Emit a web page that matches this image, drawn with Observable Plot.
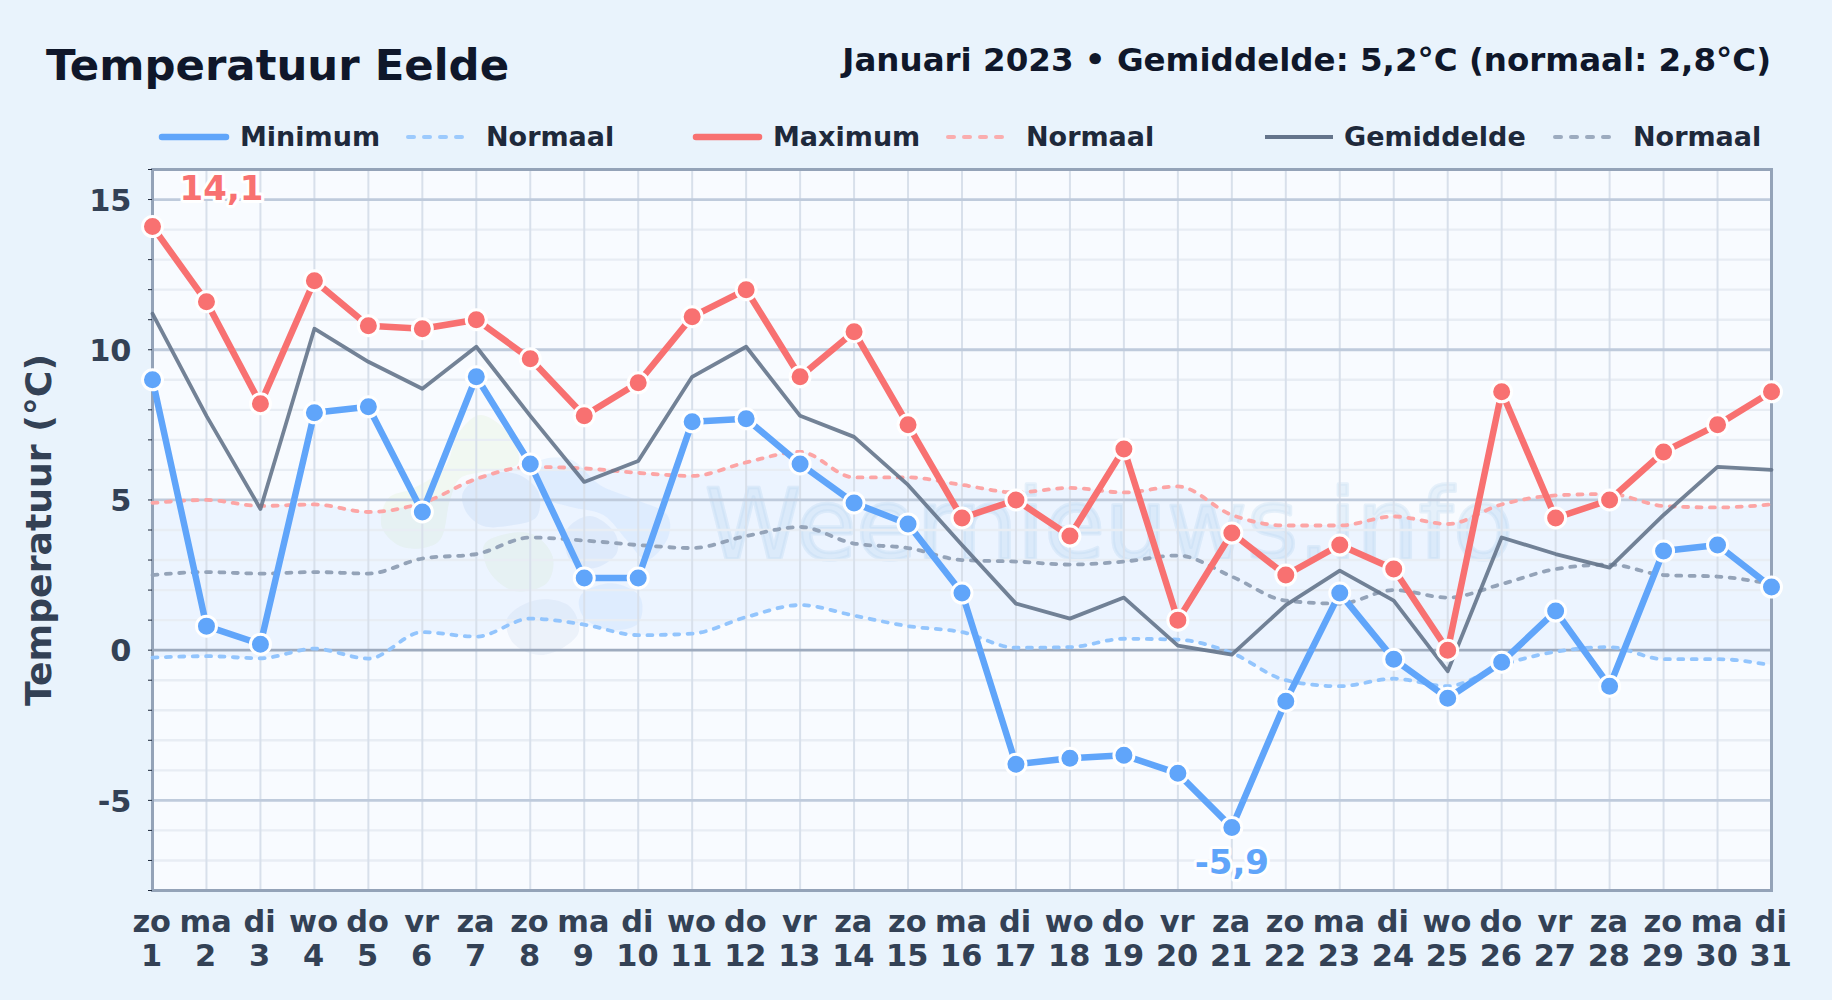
<!DOCTYPE html>
<html lang="nl">
<head>
<meta charset="utf-8">
<title>Temperatuur Eelde</title>
<script src="https://cdn.jsdelivr.net/npm/d3@7"></script>
<script src="https://cdn.jsdelivr.net/npm/@observablehq/plot@0.6"></script>
<style>
html,body{margin:0;padding:0;background:#e9f3fc;}
body{width:1832px;height:1000px;position:relative;overflow:hidden;font-family:"DejaVu Sans",sans-serif;font-weight:700;}
#title{position:absolute;left:46px;top:38px;font-size:43.4px;line-height:54px;color:#0f172a;white-space:nowrap;}
#sub{position:absolute;right:61px;top:40px;font-size:32.5px;line-height:40px;color:#0f172a;white-space:nowrap;}
.lg{position:absolute;top:120px;height:34px;line-height:34px;font-size:27px;color:#1e293b;white-space:nowrap;}
.sw{position:absolute;height:8px;}
#chart{position:absolute;left:0;top:155px;}
</style>
</head>
<body>
<div id="title">Temperatuur Eelde</div>
<div id="sub">Januari 2023 • Gemiddelde: 5,2°C (normaal: 2,8°C)</div>
<div id="legend"></div>
<div id="chart"></div>
<script>
const dayNames = ["zo","ma","di","wo","do","vr","za","zo","ma","di","wo","do","vr","za","zo","ma","di","wo","do","vr","za","zo","ma","di","wo","do","vr","za","zo","ma","di"];
const days = d3.range(1, 32);
const tmin = [9.0,0.8,0.2,7.9,8.1,4.6,9.1,6.2,2.4,2.4,7.6,7.7,6.2,4.9,4.2,1.9,-3.8,-3.6,-3.5,-4.1,-5.9,-1.7,1.9,-0.3,-1.6,-0.4,1.3,-1.2,3.3,3.5,2.1];
const tmax = [14.1,11.6,8.2,12.3,10.8,10.7,11.0,9.7,7.8,8.9,11.1,12.0,9.1,10.6,7.5,4.4,5.0,3.8,6.7,1.0,3.9,2.5,3.5,2.7,0.0,8.6,4.4,5.0,6.6,7.5,8.6];
const tavg = [11.2,7.8,4.7,10.7,9.6,8.7,10.1,7.8,5.6,6.3,9.1,10.1,7.8,7.1,5.5,3.5,1.55,1.05,1.75,0.15,-0.15,1.5,2.65,1.65,-0.7,3.75,3.2,2.75,4.5,6.1,6.0];
const nmin = [-0.25,-0.2,-0.27,0.05,-0.28,0.6,0.45,1.05,0.85,0.5,0.55,1.1,1.5,1.15,0.8,0.6,0.08,0.1,0.38,0.35,-0.1,-1.0,-1.2,-0.95,-1.2,-0.5,-0.05,0.1,-0.3,-0.3,-0.5];
const nmax = [4.9,5.0,4.8,4.85,4.6,4.9,5.7,6.1,6.05,5.9,5.8,6.25,6.6,5.75,5.75,5.5,5.25,5.4,5.25,5.45,4.5,4.15,4.15,4.45,4.2,4.85,5.15,5.2,4.8,4.75,4.85];
const navg = [2.5,2.6,2.55,2.6,2.55,3.05,3.2,3.75,3.65,3.5,3.4,3.8,4.1,3.55,3.4,3.0,2.95,2.85,2.95,3.15,2.45,1.65,1.55,2.0,1.75,2.2,2.7,2.85,2.5,2.45,2.2];
const majorTicks = [-5,0,5,10,15];
const minorTicks = d3.range(-8,17);
const watermark = "Weernieuws.info";
const maxLabel = [{day:1, v:14.1, text:"14,1"}];
const minLabel = [{day:21, v:-5.9, text:"-5,9"}];

const BLUE="#60a5fa", RED="#f87171", GRAY="#64748b";
const NBLUE="#93c5fd", NRED="#fca5a5", NGRAY="#94a3b8";
const svgTop = 155;

// legend
const legendItems = [
  {x:162,w:64,c:BLUE,dash:false,tx:240,t:"Minimum"},
  {x:408,w:56,c:NBLUE,dash:true,tx:486,t:"Normaal"},
  {x:696,w:63,c:RED,dash:false,tx:773,t:"Maximum"},
  {x:948,w:56,c:NRED,dash:true,tx:1026,t:"Normaal"},
  {x:1265,w:68,c:GRAY,dash:false,thin:true,tx:1344,t:"Gemiddelde"},
  {x:1555,w:62,c:NGRAY,dash:true,tx:1633,t:"Normaal"}
];
const lg = document.getElementById("legend");
for (const it of legendItems) {
  const sw = document.createElementNS("http://www.w3.org/2000/svg","svg");
  sw.setAttribute("class","sw");
  sw.setAttribute("width",it.w+8); sw.setAttribute("height",8);
  sw.style.left=(it.x-4)+"px"; sw.style.top="133px";
  const l = document.createElementNS("http://www.w3.org/2000/svg","line");
  l.setAttribute("x1",4); l.setAttribute("x2",it.w+4); l.setAttribute("y1",4); l.setAttribute("y2",4);
  l.setAttribute("stroke",it.c);
  l.setAttribute("stroke-width",it.dash?4:(it.thin?4:6.5));
  l.setAttribute("stroke-linecap",it.thin?"butt":"round");
  if(it.dash){l.setAttribute("stroke-dasharray","6 10");l.setAttribute("stroke-linecap","round");l.setAttribute("stroke-opacity",.9);}
  sw.appendChild(l); lg.appendChild(sw);
  const s=document.createElement("span");
  s.className="lg"; s.style.left=it.tx+"px"; s.textContent=it.t; lg.appendChild(s);
}

// faint logo behind the plot (decoration only)
const blobs = [
  {f:"#dcecc6",o:.22,p:[[330,45],[415,100],[445,190],[340,215],[270,235],[240,300],[205,425],[100,442],[35,380],[55,295],[130,265],[225,200],[265,100]]},
  {f:"#dcecc6",o:.22,p:[[345,430],[480,400],[548,470],[530,550],[430,572],[355,510]]},
  {f:"#cfe0f6",o:.4,p:[[278,280],[340,225],[440,222],[505,275],[500,350],[430,375],[340,378],[288,335]]},
  {f:"#d8e9fc",o:.45,p:[[500,190],[600,178],[690,255],[800,300],[892,345],[895,410],[830,480],[770,420],[700,345],[600,320],[520,290]]},
  {f:"#d3e1f5",o:.4,p:[[590,390],[660,348],[735,400],[740,460],[670,505],[600,480]]},
  {f:"#d8e9fc",o:.45,p:[[630,590],[720,550],[810,590],[805,670],[720,690],[640,650]]},
  {f:"#dbe5f2",o:.42,p:[[412,655],[500,600],[600,620],[625,700],[520,765],[430,730]]}
];
function logo() {
  const g = d3.create("svg:g").attr("transform",`translate(370,${400-svgTop}) scale(${1/3})`);
  const path = d3.line().curve(d3.curveCatmullRomClosed);
  for (const b of blobs) {
    g.append("path").attr("d",path(b.p)).attr("fill",b.f).attr("fill-opacity",b.o);
  }
  return g.node();
}

const rows = days.map((d,i)=>({d,min:tmin[i],max:tmax[i],avg:tavg[i],nmin:nmin[i],nmax:nmax[i],navg:navg[i]}));
const tickFont = {fontSize:30.4,fontWeight:700,fill:"#334155",fontFamily:"DejaVu Sans"};
const dash = {strokeDasharray:"5 8.4",strokeLinecap:"round",strokeWidth:3.8,curve:"monotone-x"};

const chart = Plot.plot({
  width:1832, height:845,
  marginTop:14, marginLeft:152, marginRight:61, marginBottom:110,
  style:{background:"transparent",fontFamily:"DejaVu Sans",overflow:"visible"},
  x:{domain:[1,31],label:null,axis:null},
  y:{domain:[-8,16],label:null,axis:null},
  marks:[
    Plot.frame({fill:"#f8fbff",stroke:null}),
    logo,
    Plot.text([watermark],{frameAnchor:"middle",dx:147,dy:-2,fontSize:98,fontWeight:400,fill:"#cfe2f5",fillOpacity:.45,stroke:"#cfe2f5",strokeOpacity:.45,strokeWidth:3.5,fontFamily:"DejaVu Sans"}),
    Plot.areaY(rows,{x:"d",y1:"nmin",y2:"nmax",curve:"monotone-x",fill:BLUE,fillOpacity:.075}),
    Plot.ruleY(minorTicks.filter(t=>t%5!==0),{stroke:"#e8edf4",strokeWidth:2.4}),
    Plot.ruleX(days,{stroke:"#d8e0eb",strokeWidth:2}),
    Plot.ruleY(majorTicks.filter(t=>t!==0),{stroke:"#bfcbdc",strokeWidth:2.8}),
    Plot.ruleY([0],{stroke:"#9eabbe",strokeWidth:2.8}),
    Plot.frame({stroke:"#94a3b8",strokeWidth:3}),
    Plot.axisY({ticks:minorTicks,tickSize:4,stroke:"#1e293b",tickFormat:()=>""}),
    Plot.axisY({ticks:majorTicks,tickSize:0,tickPadding:20,dy:1.5,dx:-1,tickFormat:d=>String(d),...tickFont}),
    Plot.axisX({ticks:days,tickSize:0,tickPadding:17,dx:-0.8,tickFormat:d=>dayNames[d-1]+"\n"+d,lineHeight:1.12,...tickFont}),
    Plot.text(["Temperatuur (°C)"],{frameAnchor:"left",textAnchor:"middle",rotate:-90,dx:-113,dy:0,fontSize:36.2,fontWeight:700,fill:"#334155"}),
    Plot.line(rows,{x:"d",y:"nmin",stroke:NBLUE,...dash}),
    Plot.line(rows,{x:"d",y:"nmax",stroke:NRED,...dash}),
    Plot.line(rows,{x:"d",y:"navg",stroke:NGRAY,...dash}),
    Plot.line(rows,{x:"d",y:"avg",stroke:GRAY,strokeWidth:3.8,strokeOpacity:.9}),
    Plot.line(rows,{x:"d",y:"min",stroke:BLUE,strokeWidth:6.5}),
    Plot.dot(rows,{x:"d",y:"min",r:10,fill:BLUE,stroke:"white",strokeWidth:3}),
    Plot.line(rows,{x:"d",y:"max",stroke:RED,strokeWidth:6.5}),
    Plot.dot(rows,{x:"d",y:"max",r:10,fill:RED,stroke:"white",strokeWidth:3}),
    Plot.text(maxLabel,{x:"day",y:"v",text:"text",dx:69,dy:-37,fontSize:34,fontWeight:700,fill:RED,stroke:"white",strokeWidth:6,strokeLinejoin:"round"}),
    Plot.text(minLabel,{x:"day",y:"v",text:"text",dy:36,fontSize:34,fontWeight:700,fill:BLUE,stroke:"white",strokeWidth:6,strokeLinejoin:"round"})
  ]
});
document.getElementById("chart").appendChild(chart);
</script>
</body>
</html>
